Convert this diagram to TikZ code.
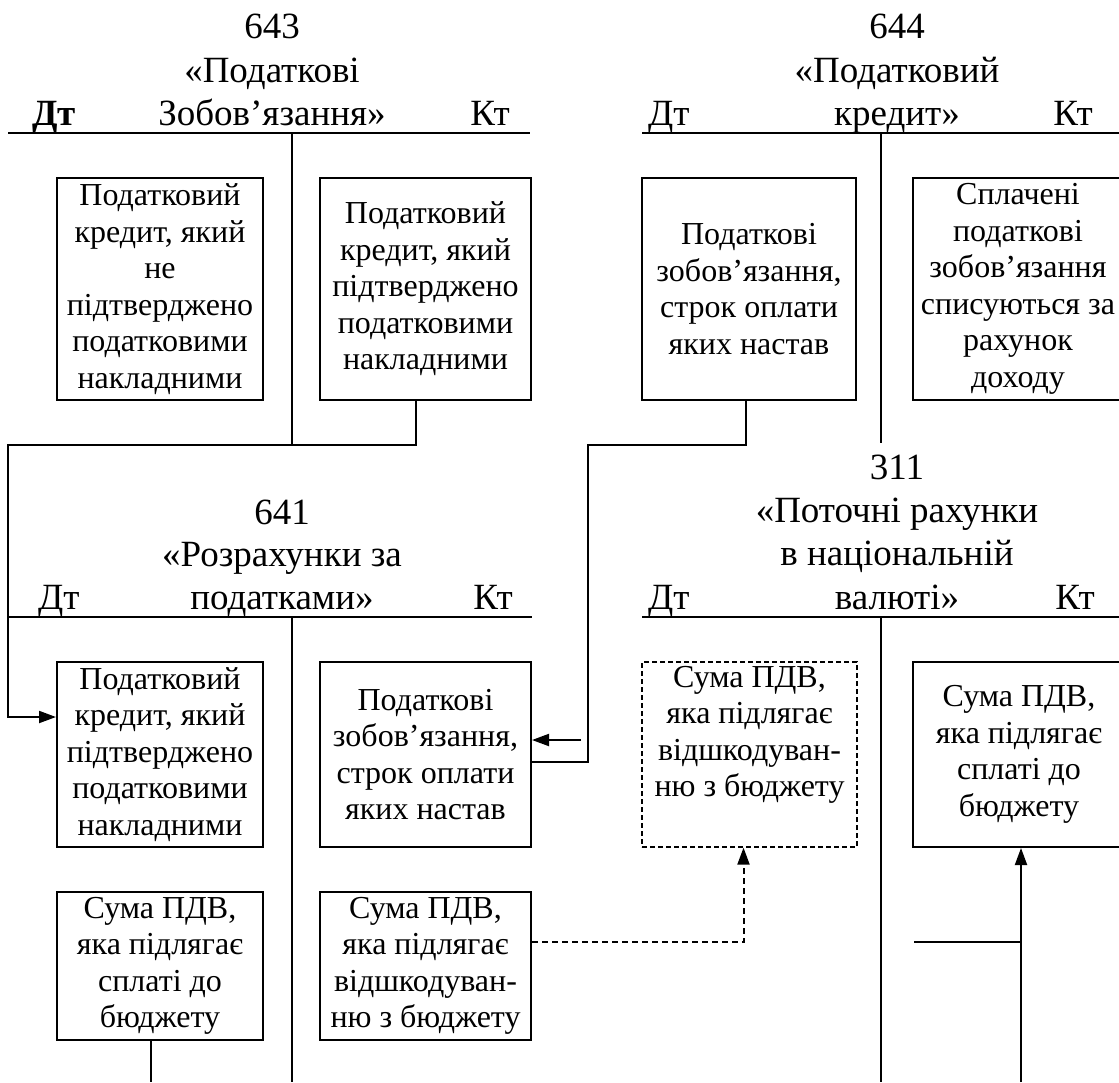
\documentclass[tikz,border=0pt]{standalone}
\usepackage{fontspec}
\setmainfont{Liberation Serif}
\usetikzlibrary{arrows.meta}

\begin{document}
\begin{tikzpicture}[x=1pt,y=-1pt,
    box/.style={draw, line width=2pt, align=center, inner sep=0pt,
        font=\fontsize{32}{36.5}\selectfont},
    dbox/.style={box, line width=1.3pt, dash pattern=on 5pt off 3pt},
    head/.style={inner sep=0pt, anchor=base, font=\fontsize{37}{43}\selectfont},
    tline/.style={line width=2pt},
    conn/.style={line width=2pt},
    dconn/.style={line width=2pt, dash pattern=on 6pt off 4pt},
    tip/.tip={Triangle[length=17pt, width=12pt]}]

    \useasboundingbox (0,0) rectangle (1119,1082);

    % 643
    \node[head] (n643) at (272,38) {643};
    \node[head] (t643a) at (272,82) {«Податкові};
    \node[head] (t643b) at (272,125) {Зобов’язання»};
    \node[head, anchor=base west] (dt643) at (32,125) {\bfseries Дт};
    \node[head, anchor=base east] (kt643) at (510,125) {Кт};
    \draw[tline] (8,133) -- (530,133);
    \draw[tline] (292,133) -- (292,445);

    % 644
    \node[head] (n644) at (897,38) {644};
    \node[head] (t644a) at (897,82) {«Податковий};
    \node[head] (t644b) at (897,125) {кредит»};
    \node[head, anchor=base west] (dt644) at (648,125) {Дт};
    \node[head, anchor=base east] (kt644) at (1093,125) {Кт};
    \draw[tline] (642,133) -- (1125,133);
    \draw[tline] (881,133) -- (881,443);

    % 641
    \node[head] (n641) at (282,524) {641};
    \node[head] (t641a) at (282,566) {«Розрахунки за};
    \node[head] (t641b) at (282,609) {податками»};
    \node[head, anchor=base west] (dt641) at (38,609) {Дт};
    \node[head, anchor=base east] (kt641) at (513,609) {Кт};
    \draw[tline] (8,617) -- (532,617);
    \draw[tline] (292,617) -- (292,1082);

    % 311
    \node[head] (n311) at (897,479) {311};
    \node[head] (t311a) at (897,522) {«Поточні рахунки};
    \node[head] (t311b) at (897,565) {в національній};
    \node[head] (t311c) at (897,609) {валюті»};
    \node[head, anchor=base west] (dt311) at (648,609) {Дт};
    \node[head, anchor=base east] (kt311) at (1095,609) {Кт};
    \draw[tline] (642,617) -- (1125,617);
    \draw[tline] (881,617) -- (881,1082);

    % boxes, top row
    \node[box, minimum width=206pt, minimum height=222pt] (k1) at (160,289)
        {Податковий\\кредит, який\\не\\підтверджено\\податковими\\накладними};
    \node[box, minimum width=211pt, minimum height=222pt] (r1) at (425.5,289)
        {Податковий\\кредит, який\\підтверджено\\податковими\\накладними};
    \node[box, minimum width=214pt, minimum height=222pt] (p1) at (749,289)
        {Податкові\\зобов’язання,\\строк оплати\\яких настав};
    \node[box, minimum width=210pt, minimum height=222pt] (p2) at (1018,289)
        {Сплачені\\податкові\\зобов’язання\\списуються за\\рахунок\\доходу};

    % boxes, middle row
    \node[box, minimum width=206pt, minimum height=185pt] (d1) at (160,754.5)
        {Податковий\\кредит, який\\підтверджено\\податковими\\накладними};
    \node[box, minimum width=211pt, minimum height=185pt] (d2) at (425.5,754.5)
        {Податкові\\зобов’язання,\\строк оплати\\яких настав};
    \node[dbox, minimum width=215pt, minimum height=185pt] (s1) at (749.5,754.5)
        {Сума ПДВ,\\яка підлягає\\відшкодуван-\\ню з бюджету\\[10pt]};
    \node[box, minimum width=212pt, minimum height=185pt] (s2) at (1019,754.5)
        {Сума ПДВ,\\яка підлягає\\сплаті до\\бюджету};

    % boxes, bottom row
    \node[box, minimum width=206pt, minimum height=148pt] (d3) at (160,966)
        {Сума ПДВ,\\яка підлягає\\сплаті до\\бюджету};
    \node[box, minimum width=211pt, minimum height=148pt] (d4) at (425.5,966)
        {Сума ПДВ,\\яка підлягає\\відшкодуван-\\ню з бюджету};

    % connectors
    \coordinate (bendA) at (8,445);
    \draw[conn, -tip] ([xshift=-9.5pt]r1.south) |- (bendA) |- ([yshift=37.5pt]d1.west);

    \coordinate (bendB) at (588,445);
    \draw[conn] ([xshift=-3pt]p1.south) |- (bendB) |- ([yshift=-7.5pt]d2.east);
    \coordinate (tailC) at (581,740);
    \draw[conn, -tip] (tailC) -- (tailC -| d2.east);

    \draw[dconn, -tip] ([yshift=24pt]d4.east) -| ([xshift=-6pt]s1.south);

    \coordinate (footS) at (1021,1082);
    \draw[conn, -tip] (footS) -- (footS |- s2.south);
    \coordinate (stubS) at (914,942);
    \draw[line width=1.3pt] (stubS) -- (stubS -| footS);

    \coordinate (footD) at (151,1082);
    \draw[conn] (footD |- d3.south) -- (footD);
\end{tikzpicture}
\end{document}
